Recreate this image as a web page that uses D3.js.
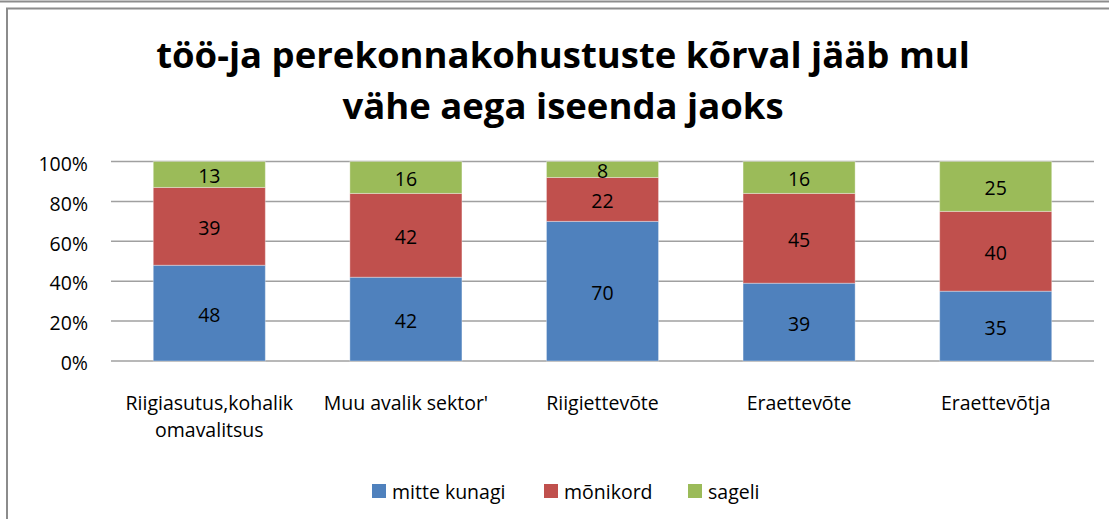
<!DOCTYPE html>
<html>
<head>
<meta charset="utf-8">
<script src="https://cdn.jsdelivr.net/npm/d3@7"></script>
<style>
  html, body { margin: 0; padding: 0; background: #fff; }
  svg { display: block; font-family: "Open Sans", "Noto Sans", sans-serif; }
</style>
</head>
<body>
<div id="chart"></div>
<script>
// kategooriad ja seeriad (protsendid)
const categories = ['Riigiasutus,kohalik omavalitsus', "Muu avalik sektor'", 'Riigiettevõte', 'Eraettevõte', 'Eraettevõtja'];
const categoryLines = [['Riigiasutus,kohalik', 'omavalitsus'], ["Muu avalik sektor'"], ['Riigiettevõte'], ['Eraettevõte'], ['Eraettevõtja']];
const seriesNames = ['mitte kunagi', 'mõnikord', 'sageli'];
const mitteKunagi = [48, 42, 70, 39, 35];
const monikord = [39, 42, 22, 45, 40];
const sageli = [13, 16, 8, 16, 25];
const yTicks = [0, 20, 40, 60, 80, 100];
const titleLines = ['töö-ja perekonnakohustuste kõrval jääb mul', 'vähe aega iseenda jaoks'];

const colors = ['#4F81BD', '#C0504D', '#9BBB59'];
const W = 1109, H = 519;
const fs = 19.5;

const svg = d3.select('#chart').append('svg')
  .attr('width', W).attr('height', H);

// frame lines (Excel-like border)
svg.append('line').attr('x1', 0).attr('x2', W).attr('y1', 1.5).attr('y2', 1.5)
  .attr('stroke', '#8c8c8c').attr('stroke-width', 2);
svg.append('path').attr('d', `M7,${H} L7,8.5 L${W},8.5`)
  .attr('fill', 'none').attr('stroke', '#8c8c8c').attr('stroke-width', 2);

// title
svg.append('g').selectAll('text')
  .data(titleLines).join('text')
  .attr('x', 563).attr('y', (d, i) => 68 + i * 51)
  .attr('text-anchor', 'middle')
  .attr('font-size', 36.5).attr('font-weight', 700)
  .attr('fill', '#000')
  .text(d => d);

const x = d3.scaleBand().domain(categories).range([111, 1094])
  .paddingInner(0.43).paddingOuter(0.215);
const y = d3.scaleLinear().domain([0, 100]).range([361, 161.5]);

// gridlines
svg.append('g').selectAll('line')
  .data(yTicks).join('line')
  .attr('x1', 111).attr('x2', 1094)
  .attr('y1', d => y(d)).attr('y2', d => y(d))
  .attr('stroke', '#a0a0a0').attr('stroke-width', 1.5);

// y axis labels
const yAxis = d3.axisLeft(y).tickValues(yTicks).tickFormat(d => d + '%').tickSize(0).tickPadding(0);
const yg = svg.append('g').attr('transform', 'translate(88,0)').call(yAxis);
yg.select('.domain').remove();
yg.selectAll('text').attr('font-size', fs).attr('fill', '#000')
  .attr('font-family', '"Open Sans", sans-serif').attr('dy', '0.45em');

// stacked data
const table = categories.map((c, i) => ({ cat: c, s0: mitteKunagi[i], s1: monikord[i], s2: sageli[i] }));
const stack = d3.stack().keys(['s0', 's1', 's2'])(table);

const layers = svg.append('g').selectAll('g')
  .data(stack).join('g')
  .attr('fill', (d, i) => colors[i]);

layers.selectAll('rect')
  .data(d => d).join('rect')
  .attr('x', d => x(d.data.cat))
  .attr('width', x.bandwidth())
  .attr('y', d => y(d[1]))
  .attr('height', d => y(d[0]) - y(d[1]))
  .attr('stroke', 'rgba(255,255,255,0.35)').attr('stroke-width', 1);

layers.selectAll('text')
  .data(d => d).join('text')
  .attr('x', d => x(d.data.cat) + x.bandwidth() / 2)
  .attr('y', d => (y(d[0]) + y(d[1])) / 2 + 2)
  .attr('dy', '0.35em')
  .attr('text-anchor', 'middle')
  .attr('font-size', fs).attr('fill', '#000')
  .text(d => d[1] - d[0]);

// category labels
const cg = svg.append('g').selectAll('text')
  .data(categories).join('text')
  .attr('x', d => x(d) + x.bandwidth() / 2)
  .attr('y', 410)
  .attr('text-anchor', 'middle')
  .attr('font-size', fs).attr('fill', '#000');
cg.selectAll('tspan')
  .data((d, i) => categoryLines[i]).join('tspan')
  .attr('x', function() { return d3.select(this.parentNode).attr('x'); })
  .attr('dy', (d, i) => i === 0 ? 0 : 27)
  .text(d => d);

// legend
const legendX = [372, 544, 688];
const lg = svg.append('g').selectAll('g')
  .data(seriesNames).join('g')
  .attr('transform', (d, i) => `translate(${legendX[i]},484)`);
lg.append('rect').attr('width', 14).attr('height', 14)
  .attr('fill', (d, i) => colors[i]);
lg.append('text').attr('x', 20).attr('y', 15)
  .attr('font-size', fs).attr('fill', '#000')
  .text(d => d);
</script>
</body>
</html>
